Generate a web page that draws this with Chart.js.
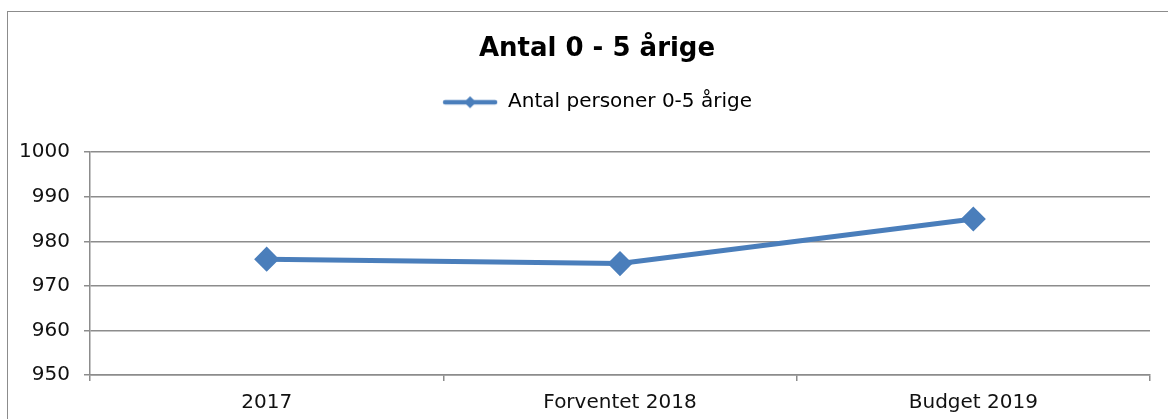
<!DOCTYPE html>
<html>
<head>
<meta charset="utf-8">
<script src="https://cdn.jsdelivr.net/npm/chart.js@4.4.0/dist/chart.umd.min.js"></script>
<style>
  html, body { margin: 0; padding: 0; background: #fff; overflow: hidden; }
  #wrap { position: relative; width: 1168px; height: 419px; overflow: hidden; }
  #frame { position: absolute; left: 7px; top: 11px; width: 1300px; height: 600px; border: 1px solid #8c8c8c; }
  canvas { position: absolute; left: 0; top: 0; }
</style>
</head>
<body>
<div id="wrap">
  <div id="frame"></div>
  <canvas id="chart" width="1168" height="419"></canvas>
</div>
<script>
// ===== Data =====
const categories = ["2017", "Forventet 2018", "Budget 2019"];
const antalPersoner = [976, 975, 985];
const yTicks = [950, 960, 970, 980, 990, 1000];

const lineColor = "#4a7ebb";
const fontFamily = "Verdana, 'DejaVu Sans', sans-serif";

// legend symbol: line with a diamond in the middle
function legendSymbol() {
  const c = document.createElement("canvas");
  c.width = 56; c.height = 14;
  const g = c.getContext("2d");
  g.strokeStyle = lineColor;
  g.lineWidth = 4.5;
  g.lineCap = "round";
  g.beginPath(); g.moveTo(3, 7); g.lineTo(53, 7); g.stroke();
  g.fillStyle = lineColor;
  g.beginPath(); g.moveTo(28, 1); g.lineTo(34, 7); g.lineTo(28, 13); g.lineTo(22, 7); g.closePath(); g.fill();
  return c;
}
const symbol = legendSymbol();

// extra room under the legend, and title/legend centred on the whole frame
const headerTweaks = {
  id: "headerTweaks",
  beforeInit(chart) {
    const fit = chart.legend.fit;
    chart.legend.fit = function () {
      fit.call(this);
      this.height += 30;
    };
  },
  afterLayout(chart) {
    [chart.titleBlock, chart.legend].forEach(b => {
      if (!b) return;
      b.left += 22;
      b.right += 22;
    });
  }
};

new Chart(document.getElementById("chart"), {
  type: "line",
  data: {
    labels: categories,
    datasets: [{
      label: "Antal personer 0-5 årige",
      data: antalPersoner,
      borderColor: lineColor,
      backgroundColor: lineColor,
      borderWidth: 5,
      pointStyle: "rectRot",
      pointRadius: 9,
      pointHoverRadius: 9,
      tension: 0
    }]
  },
  options: {
    responsive: false,
    animation: false,
    layout: { padding: { left: 0, right: 18, top: 0, bottom: 0 } },
    plugins: {
      title: {
        display: true,
        text: "Antal 0 - 5 årige",
        color: "#000",
        font: { family: fontFamily, size: 26, weight: "bold" },
        padding: { top: 34, bottom: 17 }
      },
      legend: {
        display: true,
        labels: {
          usePointStyle: true,
          pointStyleWidth: 56,
          color: "#000",
          font: { family: fontFamily, size: 20 },
          padding: 10,
          generateLabels: (chart) => {
            const items = Chart.defaults.plugins.legend.labels.generateLabels(chart);
            items.forEach(it => { it.pointStyle = symbol; });
            return items;
          }
        }
      },
      tooltip: { enabled: false }
    },
    scales: {
      x: {
        offset: true,
        grid: { offset: true, drawOnChartArea: false, drawTicks: true, tickLength: 6, color: "#8c8c8c", lineWidth: 1.5 },
        border: { color: "#8c8c8c", width: 1.5 },
        ticks: { color: "#111", font: { family: fontFamily, size: 20 }, padding: 10, maxRotation: 0 },
        afterFit: (s) => { s.height = 44; }
      },
      y: {
        min: 950,
        max: 1000,
        afterBuildTicks: (s) => { s.ticks = yTicks.map(v => ({ value: v })); },
        grid: { color: "#8c8c8c", lineWidth: 1.5, tickLength: 6 },
        border: { color: "#8c8c8c", width: 1.5 },
        ticks: { color: "#111", font: { family: fontFamily, size: 20 }, padding: 14, callback: (v) => String(v) },
        afterFit: (s) => { s.width = 90; }
      }
    }
  },
  plugins: [headerTweaks]
});
</script>
</body>
</html>
